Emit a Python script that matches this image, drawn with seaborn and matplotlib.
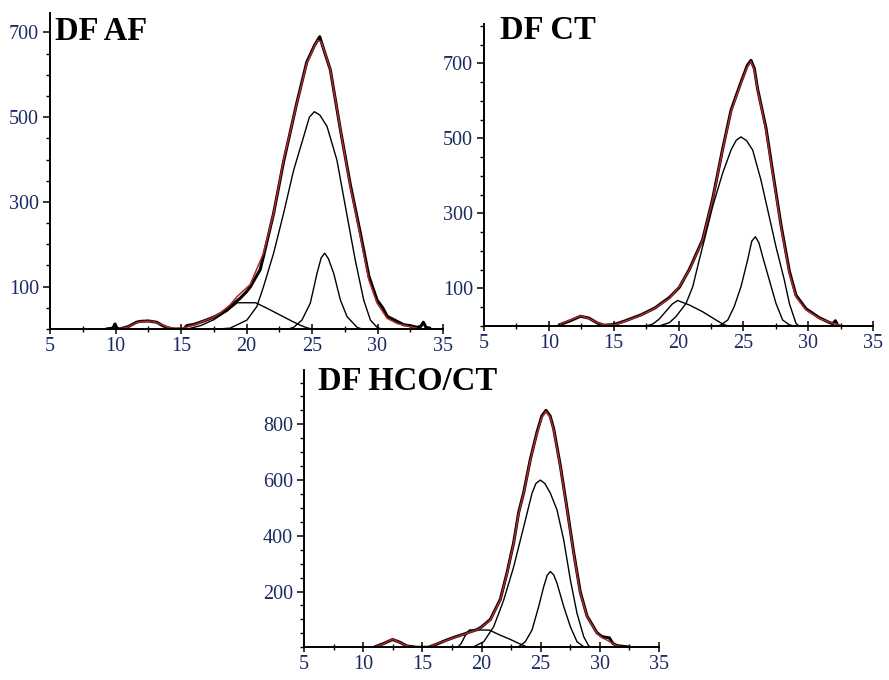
import numpy as np
import pandas as pd
import seaborn as sns
import matplotlib.pyplot as plt
from matplotlib.ticker import MultipleLocator

# ---------------- data ----------------
# Panel "DF AF"
af_data_x = [9.3, 9.8, 9.96, 10.1, 10.34, 11.0, 11.6, 11.9, 12.5, 13.14, 13.6, 13.9, 14.4, 15.2, 15.45, 16.0,
             16.47, 17.0, 17.5, 18.0, 18.5, 19.0, 19.5, 20.0, 20.3, 21.04, 21.3, 22.07, 22.83, 23.85, 24.6, 25.2,
             25.59, 26.0, 26.4, 27.17, 27.93, 28.7, 29.34, 29.97, 30.4, 30.74, 31.5, 32.0, 32.5, 33.0, 33.3, 33.5,
             33.7, 34.0]
af_data_y = [0, 2, 12, 2, 0, 6, 16, 18, 19, 16, 8, 4, 0, 0, 8, 11,
             16, 22, 28, 36, 45, 60, 72, 88, 100, 140, 172, 273, 395, 535, 630, 670,
             690, 650, 612, 470, 340, 225, 125, 68, 50, 30, 18, 10, 8, 4, 6, 16,
             4, 2]
af_fit_x = [10.3, 11.0, 11.6, 12.2, 12.8, 13.4, 14.0, 14.5, 15.0, 15.5, 16.0, 16.5, 17.0, 17.5, 18.0, 18.75,
            19.26, 20.28, 21.3, 22.07, 22.83, 23.85, 24.6, 25.2, 25.45, 25.7, 26.0, 26.4, 27.17, 27.93, 28.7, 29.34,
            29.97, 30.74, 31.5, 32.5, 33.0]
af_fit_y = [0, 5, 15, 18, 18, 12, 4, 1, 1, 5, 10, 16, 22, 28, 38, 57,
            76, 105, 179, 273, 399, 533, 627, 668, 681, 678, 651, 612, 470, 336, 218, 116,
            61, 25, 13, 5, 2]
af_c1_x = [15.5, 16.5, 17.5, 18.5, 19.3, 20.7, 21.5, 22.5, 23.5, 24.1, 24.6, 25.0]
af_c1_y = [0, 8, 22, 42, 62, 62, 50, 34, 18, 9, 3, 0]
af_c2_x = [17.8, 18.75, 20.03, 20.79, 21.3, 22.07, 22.83, 23.6, 24.36, 24.8, 25.18, 25.6, 26.15, 26.9, 27.55,
           28.3, 28.95, 29.46, 29.97, 30.3]
af_c2_y = [0, 2, 21, 53, 100, 179, 273, 375, 454, 500, 513, 505, 478, 399, 289, 163, 68, 21, 4, 0]
af_c3_x = [23.2, 23.6, 24.23, 24.87, 25.38, 25.7, 25.97, 26.25, 26.66, 27.17, 27.68, 28.44, 28.8]
af_c3_y = [0, 4, 21, 61, 131, 168, 179, 166, 131, 68, 29, 4, 0]

# Panel "DF CT"
ct_fit_x = [10.87, 11.65, 12.44, 13.09, 13.74, 14.26, 15.04, 15.83, 17.13, 18.18, 19.3, 20.06, 20.84, 21.86,
            22.63, 23.4, 24.05, 24.82, 25.3, 25.59, 25.85, 26.1, 26.75, 27.26, 27.9, 28.55, 29.06, 29.83, 30.86,
            31.9, 32.4, 32.8]
ct_fit_y = [5, 16, 27, 20, 9, 3, 3, 12, 29, 47, 74, 105, 149, 229,
            336, 469, 571, 647, 690, 704, 682, 629, 522, 407, 265, 140, 78, 43, 20,
            7, 3, 0]
ct_data_x = [10.8, 11.65, 12.44, 13.09, 13.74, 14.26, 15.04, 15.83, 17.13, 18.18, 19.3, 20.06, 20.84, 21.86,
             22.63, 23.4, 24.05, 24.82, 25.3, 25.59, 25.85, 26.1, 26.75, 27.26, 27.9, 28.55, 29.06, 29.83, 30.86,
             31.6, 31.9, 32.1, 32.3]
ct_data_y = [3, 14, 26, 21, 8, 2, 4, 13, 30, 48, 76, 103, 151, 230,
             338, 471, 575, 650, 694, 708, 686, 632, 527, 412, 270, 146, 82, 46, 22,
             10, 6, 14, 0]
ct_c1_x = [17.5, 18.0, 18.5, 19.0, 19.5, 19.93, 20.84, 21.86, 22.89, 23.53, 23.9]
ct_c1_y = [0, 5, 18, 38, 58, 68, 56, 38, 16, 3, 0]
ct_c2_x = [18.5, 19.3, 19.8, 20.58, 21.1, 21.6, 22.12, 22.63, 23.4, 24.05, 24.45, 24.82, 25.25, 25.72, 26.36,
           27.0, 27.52, 28.16, 28.55, 29.06, 29.3]
ct_c2_y = [0, 9, 25, 60, 105, 176, 247, 318, 407, 469, 495, 504, 494, 469, 389, 291, 211, 123, 60, 7, 0]
ct_c3_x = [23.0, 23.28, 23.8, 24.3, 24.82, 25.33, 25.65, 25.93, 26.2, 26.49, 27.0, 27.52, 28.03, 28.55, 28.9]
ct_c3_y = [0, 3, 16, 52, 105, 176, 226, 238, 222, 185, 123, 60, 16, 3, 0]

# Panel "DF HCO/CT"
hc_fit_x = [11.0, 11.7, 12.49, 13.1, 13.67, 14.5, 15.5, 16.2, 17.05, 17.9, 18.5, 19.0, 19.6, 20.0, 20.75, 21.59,
            22.16, 22.72, 23.14, 23.57, 24.13, 24.69, 25.1, 25.45, 25.8, 26.1, 26.66, 27.23, 27.79, 28.35, 28.92,
            29.76, 30.2, 30.6, 31.45, 32.0]
hc_fit_y = [2, 12, 29, 17, 5, 0, 0, 12, 25, 38, 46, 54, 62, 72, 98, 170,
            266, 373, 481, 553, 672, 768, 825, 846, 826, 780, 648, 493, 337, 194, 110,
            50, 34, 26, 5, 1]
hc_data_x = [11.0, 11.7, 12.49, 13.1, 13.67, 14.5, 15.5, 16.2, 17.05, 17.9, 18.5, 19.0, 19.6, 20.0, 20.75, 21.59,
             22.16, 22.72, 23.14, 23.57, 24.13, 24.69, 25.1, 25.45, 25.8, 26.1, 26.66, 27.23, 27.79, 28.35, 28.92,
             29.76, 30.2, 30.5, 30.8, 31.1, 31.45, 32.0, 32.5]
hc_data_y = [2, 13, 28, 18, 5, 0, 0, 11, 26, 39, 47, 55, 63, 73, 100, 172,
             268, 376, 484, 556, 675, 772, 830, 850, 830, 784, 652, 497, 340, 198, 112,
             52, 38, 36, 34, 14, 6, 3, 1]
hc_c1_x = [18.0, 18.3, 18.6, 18.97, 20.65, 21.5, 22.5, 23.2, 23.8, 24.1]
hc_c1_y = [0, 15, 40, 62, 62, 45, 27, 13, 2, 0]
hc_c2_x = [18.8, 19.34, 20.19, 21.03, 21.88, 22.72, 23.57, 24.27, 24.6, 24.97, 25.35, 25.82, 26.38, 26.95, 27.51,
           28.07, 28.64, 29.06, 29.3]
hc_c2_y = [0, 2, 20, 74, 170, 289, 433, 553, 588, 600, 588, 553, 493, 385, 242, 122, 38, 5, 0]
hc_c3_x = [22.9, 23.14, 23.7, 24.27, 24.83, 25.26, 25.55, 25.82, 26.1, 26.38, 26.95, 27.51, 28.07, 28.64, 28.9]
hc_c3_y = [0, 2, 20, 62, 146, 218, 258, 272, 260, 230, 146, 74, 20, 2, 0]

titles = ["DF AF", "DF CT", "DF HCO/CT"]
x_ticks = [5, 10, 15, 20, 25, 30, 35]
y_ticks_top = [100, 300, 500, 700]
y_ticks_bottom = [200, 400, 600, 800]

panels = [
    dict(data=(af_data_x, af_data_y), fit=(af_fit_x, af_fit_y),
         comps=[(af_c1_x, af_c1_y), (af_c2_x, af_c2_y), (af_c3_x, af_c3_y)],
         rect=[50/889, 1-329/680, 393/889, 316/680], ylim=746, yt=y_ticks_top,
         title_pos=(0.013, 0.99)),
    dict(data=(ct_data_x, ct_data_y), fit=(ct_fit_x, ct_fit_y),
         comps=[(ct_c1_x, ct_c1_y), (ct_c2_x, ct_c2_y), (ct_c3_x, ct_c3_y)],
         rect=[484/889, 1-326/680, 389/889, 302/680], ylim=805, yt=y_ticks_top,
         title_pos=(0.041, 1.03)),
    dict(data=(hc_data_x, hc_data_y), fit=(hc_fit_x, hc_fit_y),
         comps=[(hc_c1_x, hc_c1_y), (hc_c2_x, hc_c2_y), (hc_c3_x, hc_c3_y)],
         rect=[304/889, 1-647.3/680, 355/889, 277.3/680], ylim=995, yt=y_ticks_bottom,
         title_pos=(0.039, 1.015)),
]

sns.set_theme(style="ticks")
plt.rcParams['font.family'] = ['Liberation Serif', 'DejaVu Serif']

fig = plt.figure(figsize=(8.89, 6.8), dpi=100)
tick_color = '#1b2a62'

for p, title in zip(panels, titles):
    ax = fig.add_axes(p["rect"])
    for cx, cy in p["comps"]:
        sns.lineplot(x=cx, y=cy, ax=ax, color='black', lw=1.0, estimator=None, sort=False)
    sns.lineplot(x=p["data"][0], y=p["data"][1], ax=ax, color='black', lw=2.2, estimator=None, sort=False)
    sns.lineplot(x=p["fit"][0], y=p["fit"][1], ax=ax, color='#b0282a', lw=1.1, estimator=None, sort=False)

    ax.set_xlim(5, 35)
    ax.set_ylim(0, p["ylim"])
    ax.set_xticks(x_ticks)
    ax.xaxis.set_minor_locator(MultipleLocator(2.5))
    ax.set_yticks(p["yt"])
    ax.yaxis.set_minor_locator(MultipleLocator(50))
    for s in ["top", "right"]:
        ax.spines[s].set_visible(False)
    for s in ["left", "bottom"]:
        ax.spines[s].set_color('black')
        ax.spines[s].set_linewidth(1.4)
    ax.tick_params(axis='x', which='major', direction='inout', length=7, width=1.1,
                   labelsize=14.5, labelcolor=tick_color, pad=2, color='black')
    ax.tick_params(axis='x', which='minor', direction='inout', length=4, width=1.0, color='black')
    ax.tick_params(axis='y', which='major', direction='out', length=5, width=1.1,
                   labelsize=14.5, labelcolor=tick_color, pad=3, color='black')
    ax.tick_params(axis='y', which='minor', direction='out', length=3, width=1.0, color='black')
    ax.set_xlabel("")
    ax.set_ylabel("")
    ax.patch.set_alpha(0)
    ax.text(p["title_pos"][0], p["title_pos"][1], title, transform=ax.transAxes,
            ha='left', va='top', fontsize=23.5, fontweight='bold', color='black',
            family=['Liberation Serif', 'DejaVu Serif'])

fig.savefig("out.png", dpi=100)
